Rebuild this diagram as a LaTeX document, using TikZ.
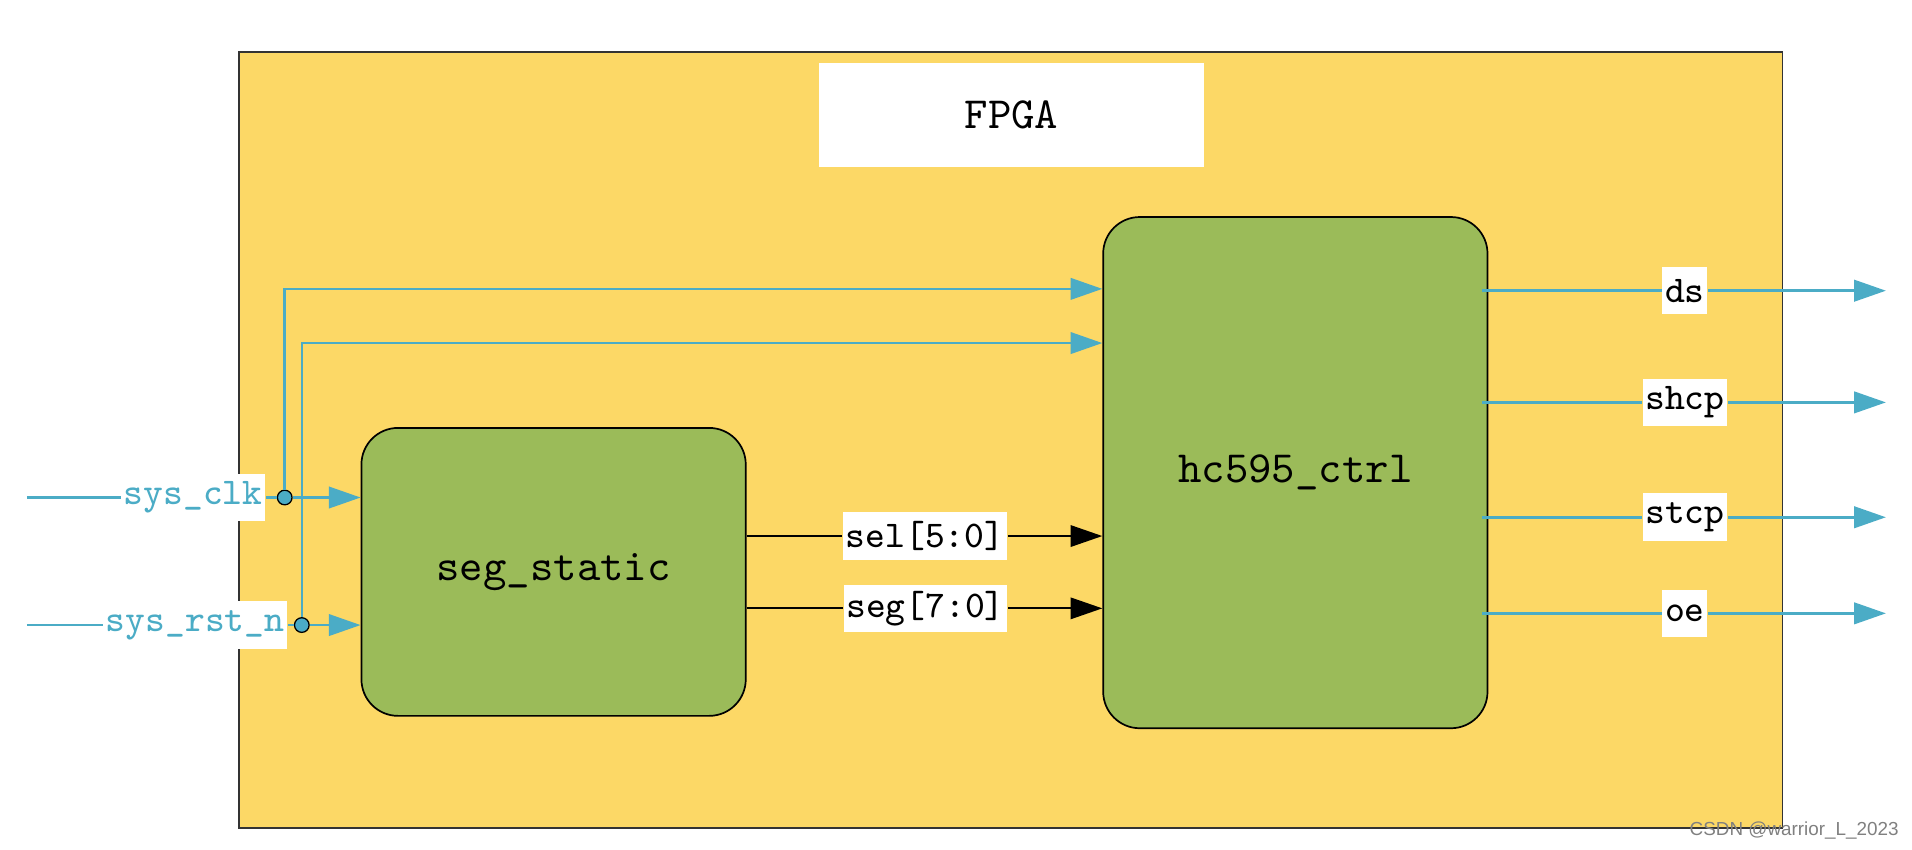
\documentclass[tikz,border=0pt]{standalone}
\usepackage{fontspec}
\usetikzlibrary{arrows.meta}
\newfontfamily\markfont{Liberation Sans}
\definecolor{boardyellow}{RGB}{252,216,102}
\definecolor{blockgreen}{RGB}{155,187,89}
\definecolor{wirecyan}{RGB}{75,172,198}
\tikzset{>={Triangle[length=7.4pt,width=5pt]},
  board/.style={draw=black!80, line width=0.4pt, fill=boardyellow},
  block/.style={draw=black, line width=0.4pt, fill=blockgreen, rounded corners=0.3cm,
    font=\fontsize{10.4}{12}\ttfamily},
  tag/.style={fill=white, inner xsep=0.6pt, inner ysep=0pt, minimum height=0.39cm,
    font=\fontsize{8.8}{10}\ttfamily},
  wire/.style={wirecyan, line width=0.6pt},
  bus/.style={black, line width=0.45pt},
  joint/.style={circle, draw=black, line width=0.3pt, fill=wirecyan, inner sep=0pt,
    minimum size=0.12cm}}

\begin{document}
\begin{tikzpicture}[x=0.01cm, y=-0.01cm]
    \useasboundingbox (0,0) rectangle (1568,697);
    \node[board, minimum width=12.65cm, minimum height=6.36cm] (fpga) at (829,361) {};
    \node[fill=white, minimum width=3.15cm, minimum height=0.85cm,
      font=\fontsize{10.4}{12}\ttfamily] (title) at (829.5,94.3) {FPGA};
    \node[block, minimum width=3.15cm, minimum height=2.36cm] (seg) at (454,469) {seg\_static};
    \node[block, minimum width=3.15cm, minimum height=4.19cm] (hc) at (1062.3,387.6) {hc595\_ctrl};
    % inputs
    \coordinate (clkin) at (22,408);
    \coordinate (rstin) at (22,512.6);
    \node[tag, text=wirecyan] (clk) at (158.5,408) {sys\_clk};
    \node[tag, text=wirecyan] (rst) at (160,512.6) {sys\_rst\_n};
    \node[joint] (clkdot) at (233.5,408) {};
    \node[joint] (rstdot) at (247.5,512.6) {};
    \draw[wire] (clkin) -- (clk);
    \draw[wire] (rstin) -- (rst);
    \draw[wire,->] (clk) -- (clkdot) -- (clkdot -| seg.west);
    \draw[wire,->] (rst) -- (rstdot) -- (rstdot -| seg.west);
    \draw[wire,->] (clkdot) |- ([yshift=-0.596cm]hc.north west);
    \draw[wire,->] (rstdot) |- ([yshift=-1.04cm]hc.north west);
    % buses
    \node[tag] (sel) at (758.7,439.6) {sel[5:0]};
    \node[tag] (segbus) at (759,498.9) {seg[7:0]};
    \draw[bus] (seg.east |- sel) -- (sel);
    \draw[bus,->] (sel) -- (sel -| hc.west);
    \draw[bus] (seg.east |- segbus) -- (segbus);
    \draw[bus,->] (segbus) -- (segbus -| hc.west);
    % outputs
    \foreach \name/\y in {ds/238.4, shcp/330, stcp/424.2, oe/503}{
      \coordinate (\name-a) at (1215.6,\y);
      \coordinate (\name-b) at (1546.6,\y);
      \node[tag] (\name) at (1381.7,\y) {\name};
      \draw[wire] (\name-a) -- (\name);
      \draw[wire,->] (\name) -- (\name-b);
    }
    \node[anchor=west, inner sep=0pt, text=gray, font=\markfont\fontsize{4.4}{5}\selectfont]
      (mark) at (1385,681.5) {CSDN @warrior\_L\_2023};
\end{tikzpicture}
\end{document}
